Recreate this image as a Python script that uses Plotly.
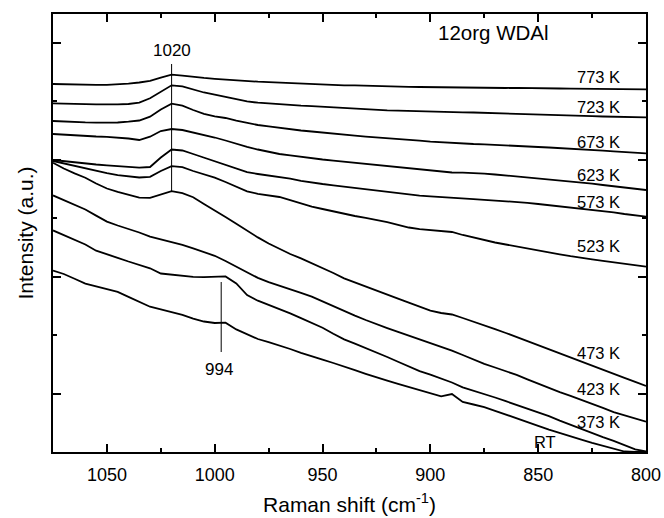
import plotly.graph_objects as go

# Raman shift grid (cm^-1)
wavenumber = [1075, 1070, 1065, 1060, 1055, 1050, 1045, 1040, 1035, 1030,
              1025, 1020, 1015, 1010, 1005, 1000, 995, 990, 985, 980,
              975, 970, 965, 960, 955, 950, 945, 940, 935, 930,
              925, 920, 915, 910, 905, 900, 895, 890, 885, 880,
              875, 870, 865, 860, 855, 850, 845, 840, 835, 830,
              825, 820, 815, 810, 805, 800]

# Stacked intensities (arbitrary units, offset already included)
i_773 = [368.0, 367.6, 367.5, 367.0, 367.1, 367.2, 367.6, 368.3, 369.5, 371.2,
         374.3, 377.3, 376.4, 375.0, 374.1, 373.2, 372.4, 371.5, 370.9, 370.3,
         369.9, 369.4, 368.8, 368.4, 367.9, 367.5, 367.1, 366.7, 366.6, 366.2,
         366.0, 365.7, 365.6, 365.2, 365.0, 364.8, 364.8, 364.6, 364.5, 364.6,
         364.3, 364.3, 364.0, 364.1, 363.8, 363.7, 363.7, 363.5, 363.4, 363.3,
         363.2, 363.0, 362.9, 362.9, 362.8, 362.7]
i_723 = [348.7, 348.2, 348.0, 347.8, 347.7, 347.4, 347.6, 348.0, 349.3, 353.7,
         360.3, 366.7, 365.7, 362.5, 359.5, 357.3, 355.0, 352.5, 350.6, 349.3,
         348.4, 347.5, 346.9, 346.3, 345.9, 345.2, 344.9, 344.3, 343.8, 343.0,
         342.4, 341.7, 341.4, 341.0, 340.8, 340.4, 340.2, 339.7, 339.7, 339.5,
         339.1, 338.8, 338.3, 338.1, 337.6, 337.3, 337.0, 336.5, 336.3, 336.0,
         335.8, 335.5, 335.2, 335.0, 334.8, 334.7]
i_673 = [331.0, 330.4, 330.0, 329.6, 329.4, 329.3, 329.5, 330.3, 331.5, 335.3,
         342.5, 348.3, 346.3, 342.0, 338.2, 335.7, 334.0, 331.4, 329.2, 327.0,
         325.6, 324.0, 322.8, 321.5, 320.5, 319.3, 318.3, 317.0, 316.3, 315.3,
         314.6, 313.7, 312.9, 312.0, 311.3, 310.3, 309.6, 308.7, 308.4, 308.0,
         307.7, 307.3, 306.6, 306.1, 305.5, 305.0, 304.5, 304.0, 303.4, 302.7,
         302.1, 301.3, 300.7, 300.0, 299.4, 298.7]
i_623 = [318.0, 317.3, 316.5, 316.1, 315.5, 315.2, 314.5, 313.5, 312.0, 315.3,
         321.0, 323.0, 322.0, 319.5, 317.5, 314.5, 311.5, 308.0, 305.1, 302.5,
         300.1, 298.0, 296.6, 295.0, 293.8, 292.5, 291.4, 290.3, 289.3, 288.0,
         287.1, 286.0, 284.9, 283.7, 282.4, 281.0, 280.3, 279.5, 279.3, 279.0,
         278.3, 277.5, 276.5, 275.3, 274.5, 273.5, 272.8, 272.0, 270.9, 269.5,
         268.4, 267.0, 265.9, 264.5, 263.3, 262.0]
i_573 = [292.0, 290.8, 289.5, 288.5, 287.5, 286.7, 286.0, 285.2, 284.3, 285.0,
         294.5, 302.5, 301.5, 298.0, 294.3, 291.0, 287.5, 283.8, 279.8, 278.0,
         276.5, 275.1, 273.3, 271.2, 269.4, 268.0, 266.7, 265.4, 264.2, 262.8,
         261.4, 260.2, 258.8, 257.4, 256.4, 255.6, 254.8, 253.8, 253.4, 252.8,
         252.2, 251.5, 250.9, 250.3, 249.2, 248.0, 246.8, 246.0, 245.0, 243.8,
         242.5, 241.0, 239.6, 238.0, 236.6, 235.3]
i_523 = [291.0, 288.5, 285.7, 283.2, 281.0, 278.9, 276.9, 275.6, 274.5, 275.2,
         281.0, 285.8, 284.8, 281.0, 277.5, 274.3, 270.0, 265.3, 260.6, 258.2,
         256.6, 255.0, 251.9, 248.5, 245.4, 243.0, 240.6, 238.2, 236.0, 234.2,
         232.3, 229.8, 227.1, 224.5, 222.8, 221.8, 220.8, 220.0, 217.0, 214.4,
         211.8, 209.5, 207.5, 205.4, 203.3, 201.4, 199.5, 197.7, 195.8, 194.0,
         192.6, 191.2, 189.7, 188.3, 186.7, 185.3]
i_473 = [289.3, 283.5, 278.6, 274.3, 268.5, 263.5, 260.2, 257.2, 254.3, 254.1,
         257.3, 260.9, 258.8, 254.8, 248.0, 241.7, 235.0, 228.2, 221.2, 214.6,
         208.5, 203.2, 198.0, 193.6, 189.0, 184.3, 179.0, 173.7, 169.5, 165.2,
         161.0, 156.9, 153.4, 149.4, 145.2, 141.3, 139.0, 137.5, 134.0, 130.5,
         126.5, 122.8, 119.0, 115.0, 110.8, 106.5, 102.3, 98.5, 94.6, 90.8,
         86.4, 82.2, 78.2, 74.2, 70.1, 66.0]
i_423 = [256.6, 252.0, 247.3, 242.5, 236.4, 230.4, 226.5, 223.3, 219.5, 215.3,
         212.6, 209.9, 207.1, 203.6, 199.9, 196.2, 191.0, 185.2, 179.5, 174.1,
         169.9, 166.5, 162.8, 159.1, 155.4, 150.5, 145.6, 140.7, 136.4, 132.0,
         127.6, 123.9, 120.1, 116.4, 112.5, 108.9, 105.1, 101.3, 97.0, 92.5,
         88.2, 84.5, 80.8, 77.1, 72.6, 68.3, 63.9, 59.9, 56.2, 52.4,
         48.3, 44.1, 39.9, 36.6, 33.4, 30.3]
i_373 = [221.6, 217.0, 212.3, 207.5, 201.3, 197.4, 194.2, 190.5, 187.2, 183.7,
         178.5, 177.2, 176.0, 175.2, 174.9, 175.0, 175.6, 168.5, 157.0, 151.3,
         147.0, 143.4, 138.6, 133.9, 129.1, 124.3, 118.2, 112.6, 108.4, 104.2,
         99.6, 95.0, 90.2, 85.4, 80.9, 77.3, 73.4, 69.5, 64.7, 61.5,
         58.2, 54.5, 50.8, 47.1, 43.5, 39.7, 35.9, 31.4, 27.1, 22.7,
         18.5, 14.8, 11.1, 7.0, 2.7, 0.5]
i_rt = [181.5, 178.0, 173.3, 168.4, 165.6, 162.8, 160.1, 155.1, 150.2, 145.3,
        142.6, 139.9, 137.1, 133.3, 130.5, 129.0, 129.3, 122.6, 117.4, 113.0,
        109.8, 106.6, 103.0, 99.1, 95.4, 92.3, 89.0, 85.7, 81.9, 78.2,
        74.5, 71.3, 68.1, 65.0, 62.0, 59.4, 55.6, 58.0, 50.0, 47.5,
        44.9, 41.2, 37.6, 33.9, 30.0, 26.2, 22.4, 18.8, 15.6, 12.3,
        9.1, 6.4, 3.3, 0.5, 0.0, 0.0]

series = [i_773, i_723, i_673, i_623, i_573, i_523, i_473, i_423, i_373, i_rt]
labels = ["773 K", "723 K", "673 K", "623 K", "573 K", "523 K", "473 K", "423 K", "373 K", "RT"]
label_x = [811, 811, 811, 811, 811, 811, 811, 811, 811, 847]
label_y = [375, 345, 310, 277, 250, 206, 99, 63, 30.5, 10.5]

FONT = "Liberation Sans, Arial, sans-serif"

fig = go.Figure()
for ys in series:
    fig.add_trace(go.Scatter(x=wavenumber, y=ys, mode="lines",
                             line=dict(color="black", width=1.8),
                             showlegend=False, hoverinfo="skip"))

for lab, lx, ly in zip(labels, label_x, label_y):
    fig.add_annotation(x=lx, y=ly, text=lab, showarrow=False,
                       xanchor="right" if lab != "RT" else "center",
                       yanchor="middle", font=dict(size=16.5, color="black", family=FONT))

# peak markers
fig.add_shape(type="line", x0=1020, x1=1020, y0=261, y1=388,
              line=dict(color="black", width=1))
fig.add_annotation(x=1020, y=402, text="1020", showarrow=False,
                   font=dict(size=17, color="black", family=FONT))
fig.add_shape(type="line", x0=997, x1=997, y0=100, y1=170,
              line=dict(color="black", width=1))
fig.add_annotation(x=998, y=83, text="994", showarrow=False,
                   font=dict(size=17, color="black", family=FONT))
fig.add_annotation(x=870.5, y=420, text="12org WDAl", showarrow=False,
                   font=dict(size=20.5, color="black", family=FONT))

fig.update_layout(
    width=664, height=518,
    margin=dict(l=53, r=18, t=14, b=66, autoexpand=False),
    plot_bgcolor="white", paper_bgcolor="white",
    font=dict(family=FONT, color="black"),
    xaxis=dict(range=[1075, 800], autorange=False, tick0=800, dtick=50,
               automargin=False,
               ticks="inside", ticklen=8, tickwidth=1.5, tickcolor="black",
               showline=True, linewidth=2, linecolor="black", mirror="allticks",
               showgrid=False, zeroline=False, ticklabelstandoff=5,
               tickfont=dict(size=18, family=FONT),
               minor=dict(dtick=25, tick0=800, ticks="inside", ticklen=4,
                          tickwidth=1.5, tickcolor="black", showgrid=False),
               title=dict(text="Raman shift (cm<sup>-1</sup>)", standoff=14,
                          font=dict(size=21, family=FONT))),
    yaxis=dict(range=[0, 438], autorange=False, showticklabels=False,
               automargin=False,
               tickmode="array", tickvals=[58.5, 175.5, 292.5, 409.5],
               ticks="inside", ticklen=8, tickwidth=1.5, tickcolor="black",
               showline=True, linewidth=2, linecolor="black", mirror="allticks",
               showgrid=False, zeroline=False,
               minor=dict(tickmode="array", tickvals=[0, 117, 234, 351],
                          ticks="inside", ticklen=4, tickwidth=1.5,
                          tickcolor="black", showgrid=False),
               title=dict(text="Intensity (a.u.)", standoff=12,
                          font=dict(size=21, family=FONT))),
)

fig.write_html("out.html")
